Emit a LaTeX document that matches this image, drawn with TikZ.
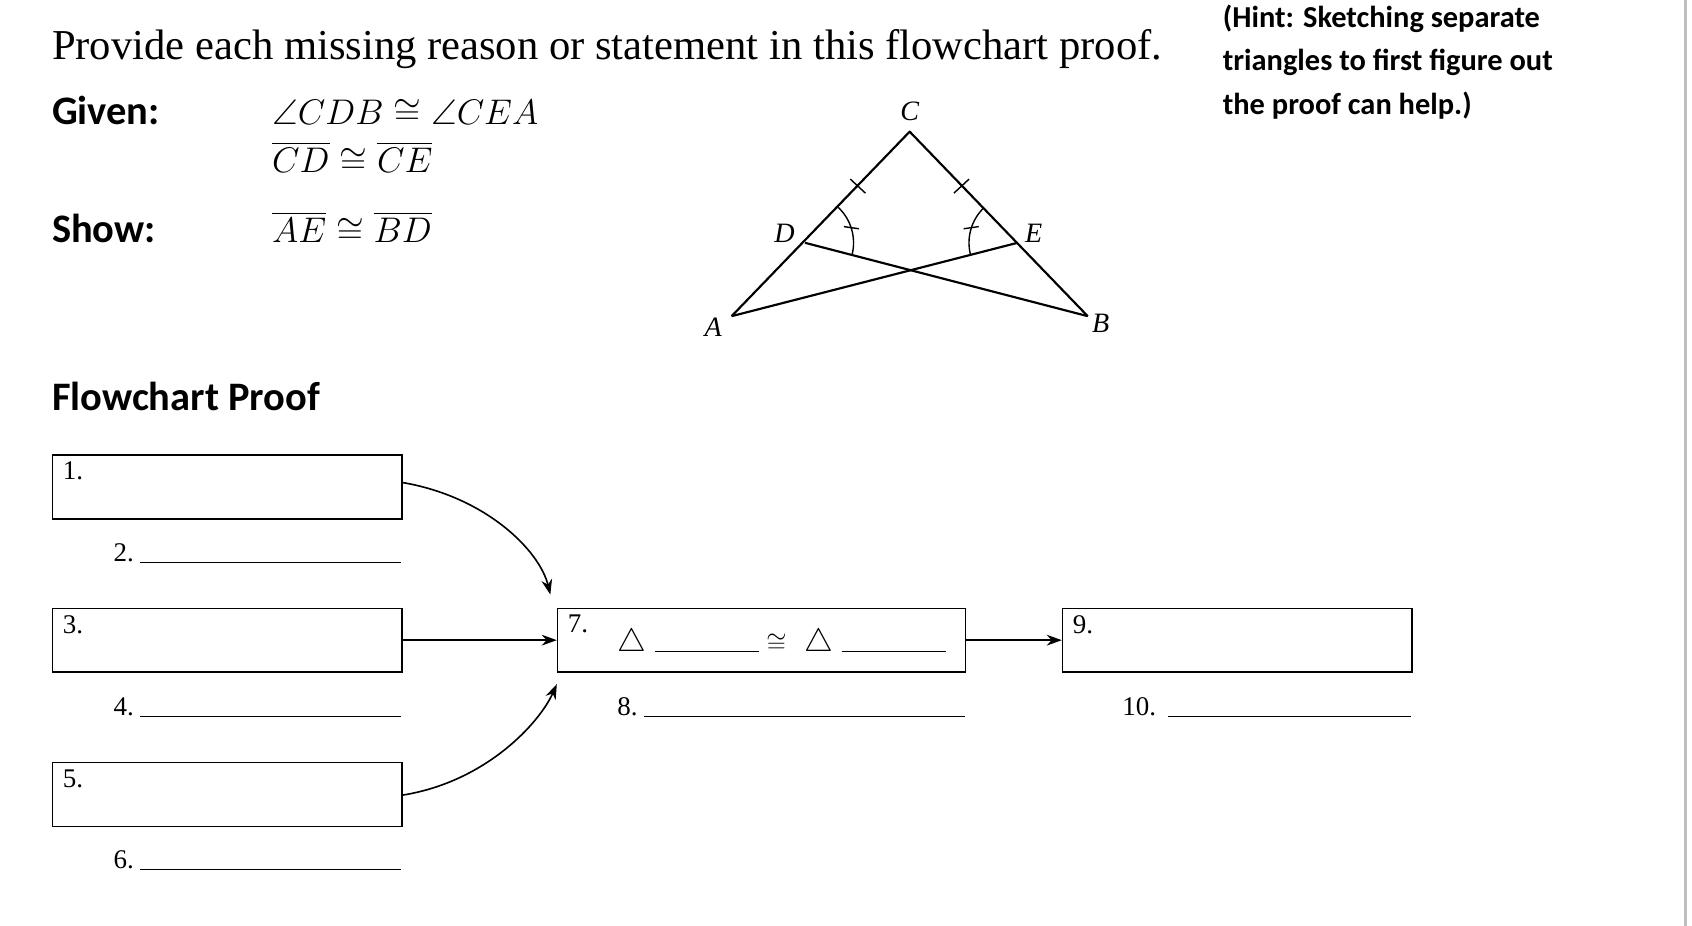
\RequirePackage{fix-cm}
\documentclass[tikz,border=0pt]{standalone}
\usepackage{amssymb}
\usepackage{fontspec}
\setmainfont{Liberation Serif}
\newfontfamily\hdfont{Carlito}
\usetikzlibrary{arrows.meta,calc}
\tikzset{
  box/.style={draw, line width=1.5pt, anchor=north west, minimum width=324pt, minimum height=59pt, inner sep=0pt},
  num/.style={anchor=north west, font=\fontsize{25}{28}\selectfont, inner sep=0pt},
  blank/.style={line width=1.2pt},
  conn/.style={line width=1.5pt, -{Stealth[length=14pt,width=10pt]}},
  seg/.style={line width=2pt},
  lbl/.style={font=\fontsize{26}{30}\selectfont\itshape, inner sep=0pt},
  head/.style={anchor=base west, inner sep=0pt, font=\hdfont\bfseries\fontsize{37.5}{40}\selectfont},
  mth/.style={anchor=base west, inner sep=0pt, font=\fontsize{33}{40}\selectfont},
}
\begin{document}
\begin{tikzpicture}[x=1pt,y=-1pt]
\useasboundingbox (0,0) rectangle (1568,858);
\draw[gray!50, line width=2pt] (1562,0) -- (1562,858);
% header
\node[anchor=base west, inner sep=0pt, font=\fontsize{39.5}{44}\selectfont] (title) at (48,55) {Provide each missing reason or statement in this flowchart proof.};
\node[head] (given) at (48,115) {Given:};
\node[mth] (g1) at (252,115) {$\angle CDB \cong \angle CEA$};
\node[mth] (g2) at (252,160) {$\overline{CD} \cong \overline{CE}$};
\node[head] (show) at (48,225) {Show:};
\node[mth] (s1) at (252,225) {$\overline{AE} \cong \overline{BD}$};
\node[anchor=north west, inner sep=0pt, align=left, font=\hdfont\bfseries\fontsize{28.2}{40.5}\selectfont] (hint) at (1133,4) {(Hint: Sketching separate\\triangles to first figure out\\the proof can help.)};
% triangle
\coordinate (C) at (843,122);
\coordinate (D) at (746,225);
\coordinate (E) at (943,225);
\coordinate (A) at (678,293);
\coordinate (B) at (1008,293);
\draw[seg, line join=round] (A) -- (C) -- (B);
\draw[seg] (A) -- (E);
\draw[seg] (D) -- (B);
\draw[line width=1.3pt] (788,166) -- (802,179);
\draw[line width=1.3pt] (898,166) -- (884,179);
\draw[line width=1.3pt] ($(D)+(30.8,-32.8)$) arc[start angle=-46.8,end angle=14.5,radius=45];
\draw[line width=1.3pt] ($(E)+(-31.4,-32.3)$) arc[start angle=-134.2,end angle=-194.4,radius=45];
\draw[line width=1.3pt] (782,210) -- (796,212);
\draw[line width=1.3pt] (907,210) -- (893,212);
\node[lbl] (lc) at (843,103) {C};
\node[lbl] (ld) at (727,216) {D};
\node[lbl] (le) at (958,216) {E};
\node[lbl] (la) at (661,303) {A};
\node[lbl] (lb) at (1020,300) {B};
% flowchart
\node[head] (fp) at (48,380) {Flowchart Proof};
\node[box] (b1) at (48,421) {};
\node[box] (b3) at (48,563) {};
\node[box] (b5) at (48,706) {};
\node[box, minimum width=378pt] (b7) at (516,563) {};
\node[box] (b9) at (984,563) {};
\node[num] at (58,428) {1.};
\node[num] at (58,570) {3.};
\node[num] at (58,713) {5.};
\node[num] at (526,570) {7.};
\node[num] at (994,570) {9.};
\node[num, anchor=base west] at (105,520) {2.};
\node[num, anchor=base west] at (105,663) {4.};
\node[num, anchor=base west] at (105,805) {6.};
\node[num, anchor=base west] at (572,663) {8.};
\node[num, anchor=base west] at (1040,663) {10.};
\draw[blank] (130,521) -- (372,521);
\draw[blank] (130,664) -- (372,664);
\draw[blank] (130,806) -- (372,806);
\draw[blank] (597,664) -- (894,664);
\draw[blank] (1082,664) -- (1308,664);
\node[anchor=base west, inner sep=0pt, font=\fontsize{30}{34}\selectfont] at (572,604) {$\triangle$};
\draw[blank] (607,604) -- (703,604);
\node[anchor=base west, inner sep=0pt, font=\fontsize{24}{30}\selectfont] at (710,604) {$\cong$};
\node[anchor=base west, inner sep=0pt, font=\fontsize{30}{34}\selectfont] at (745,604) {$\triangle$};
\draw[blank] (780,604) -- (877,604);
% connectors
\coordinate (s1a) at (372,447);
\coordinate (s5a) at (372,737);
\coordinate (t1) at (510,551);
\coordinate (t5) at (516,634);
\draw[conn] (s1a) .. controls (450,460) and (500,510) .. (t1);
\draw[conn] (b3.east) -- (b7.west);
\draw[conn] (s5a) .. controls (450,725) and (500,670) .. (t5);
\draw[conn] (b7.east) -- (b9.west);
\end{tikzpicture}
\end{document}
